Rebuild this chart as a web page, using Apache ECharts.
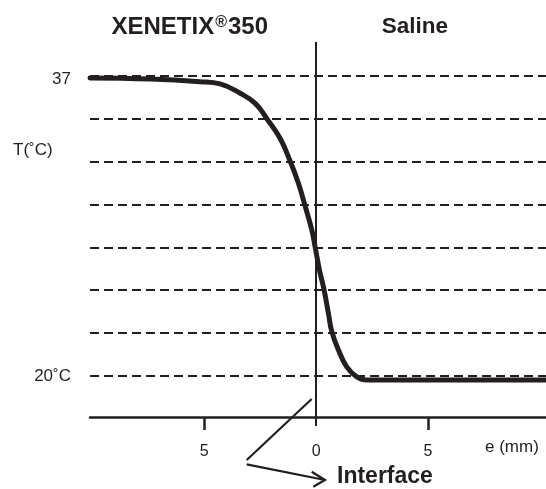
<!DOCTYPE html>
<html>
<head>
<meta charset="utf-8">
<script src="https://cdn.jsdelivr.net/npm/echarts@6/dist/echarts.min.js"></script>
<style>
html,body{margin:0;padding:0;background:#fff;}
#c{width:546px;height:489px;}
</style>
</head>
<body>
<div id="c"></div>
<script>
// thickness e (mm), negative = XENETIX side, positive = saline side
const thickness = [-10.1, -7.41, -5.18, -4.29, -3.39, -2.72, -2.20, -1.61, -1.16, -0.79, -0.49, -0.19, -0.04, 0.15, 0.36, 0.55, 0.70, 1.00, 1.37, 1.82, 2.26, 3.0, 10.27];
// temperature (°C)
const temperature = [36.89, 36.83, 36.68, 36.55, 36.02, 35.45, 34.58, 33.47, 32.18, 30.92, 29.63, 28.27, 27.29, 26.01, 24.86, 23.55, 22.53, 21.47, 20.52, 19.95, 19.77, 19.77, 19.77];
// dashed reference levels (°C)
const gridTemps = [37, 34.57, 32.14, 29.71, 27.29, 24.86, 22.43, 20];
const xTickValues = [-5, 5];
const xLabelValues = [-5, 0, 5];
const yLabelValues = [37, 20];
const interfaceX = 0;

const INK = '#231f20';
const FONT = "'Liberation Sans', Arial, Helvetica, sans-serif";

const chart = echarts.init(document.getElementById('c'), null, {renderer: 'canvas'});
const option = {
  backgroundColor: '#fff',
  animation: false,
  grid: {left: 90, right: 0, top: 42, bottom: 63, containLabel: false},
  xAxis: {
    type: 'value', min: -10.1, max: 10.27, offset: -9,
    axisLine: {onZero: false, lineStyle: {color: INK, width: 2.5}},
    axisTick: {show: true, customValues: xTickValues, length: 13, lineStyle: {color: INK, width: 2.5}},
    axisLabel: {customValues: xLabelValues, formatter: v => String(Math.abs(v)), margin: 27,
      color: INK, fontSize: 16, fontFamily: FONT},
    splitLine: {show: false}
  },
  yAxis: {
    type: 'value', min: 17.167, max: 38.927,
    axisLine: {show: false, onZero: false},
    axisTick: {show: false},
    axisLabel: {customValues: yLabelValues,
      formatter: v => (v === 20 ? '{c|20˚C}' : '{t|' + v + '}'),
      margin: 19, color: INK, fontSize: 17, fontFamily: FONT,
      rich: {
        t: {fontSize: 17, fontFamily: FONT, color: INK, padding: [6, 0, 0, 0]},
        c: {fontSize: 17, fontFamily: FONT, color: INK}
      }},
    splitLine: {show: false}
  },
  series: [
    {
      type: 'line', data: [], z: 1, silent: true,
      markLine: {
        silent: true, symbol: ['none', 'none'], label: {show: false},
        animation: false,
        data: gridTemps.map(t => ({yAxis: t, lineStyle: {type: [9, 5], width: 2.2, color: INK}}))
          .concat([{xAxis: interfaceX, lineStyle: {type: 'solid', width: 2, color: INK}}])
      }
    },
    {
      type: 'line', z: 5, silent: true,
      data: thickness.map((x, i) => [x, temperature[i]]),
      showSymbol: false, smooth: 0.45,
      lineStyle: {color: INK, width: 5, cap: 'round', join: 'round'}
    }
  ],
  graphic: [
    {type: 'text', x: 111.5, y: 27, style: {
      text: '{a|XENETIX}{b|®}{a|350}', verticalAlign: 'middle', align: 'left',
      rich: {
        a: {fontSize: 24, fontWeight: 'bold', fontFamily: FONT, fill: INK, color: INK},
        b: {fontSize: 16, fontWeight: 'bold', fontFamily: FONT, fill: INK, color: INK, verticalAlign: 'top', padding: [0, 1, 0, 1]}
      }}},
    {type: 'text', x: 381.7, y: 27, style: {text: 'Saline', font: 'bold 22.5px ' + FONT, fill: INK, align: 'left', verticalAlign: 'middle'}},
    {type: 'text', x: 13, y: 150, style: {text: 'T(˚C)', font: '17px ' + FONT, fill: INK, align: 'left', verticalAlign: 'middle'}},
    {type: 'text', x: 485, y: 447, style: {text: 'e (mm)', font: '17px ' + FONT, fill: INK, align: 'left', verticalAlign: 'middle'}},
    {type: 'text', x: 337, y: 477, style: {text: 'Interface', font: 'bold 23px ' + FONT, fill: INK, align: 'left', verticalAlign: 'middle'}},
    {type: 'polyline', shape: {points: [[311.7, 399], [246.7, 460]]}, style: {stroke: INK, lineWidth: 2.2, fill: null}},
    {type: 'polyline', shape: {points: [[246.7, 464.3], [325, 480]]}, style: {stroke: INK, lineWidth: 2.2, fill: null}},
    {type: 'polyline', shape: {points: [[311.7, 471.7], [325, 480], [313.3, 486.7]]}, style: {stroke: INK, lineWidth: 2.2, fill: null}}
  ]
};
chart.setOption(option);
</script>
</body>
</html>
